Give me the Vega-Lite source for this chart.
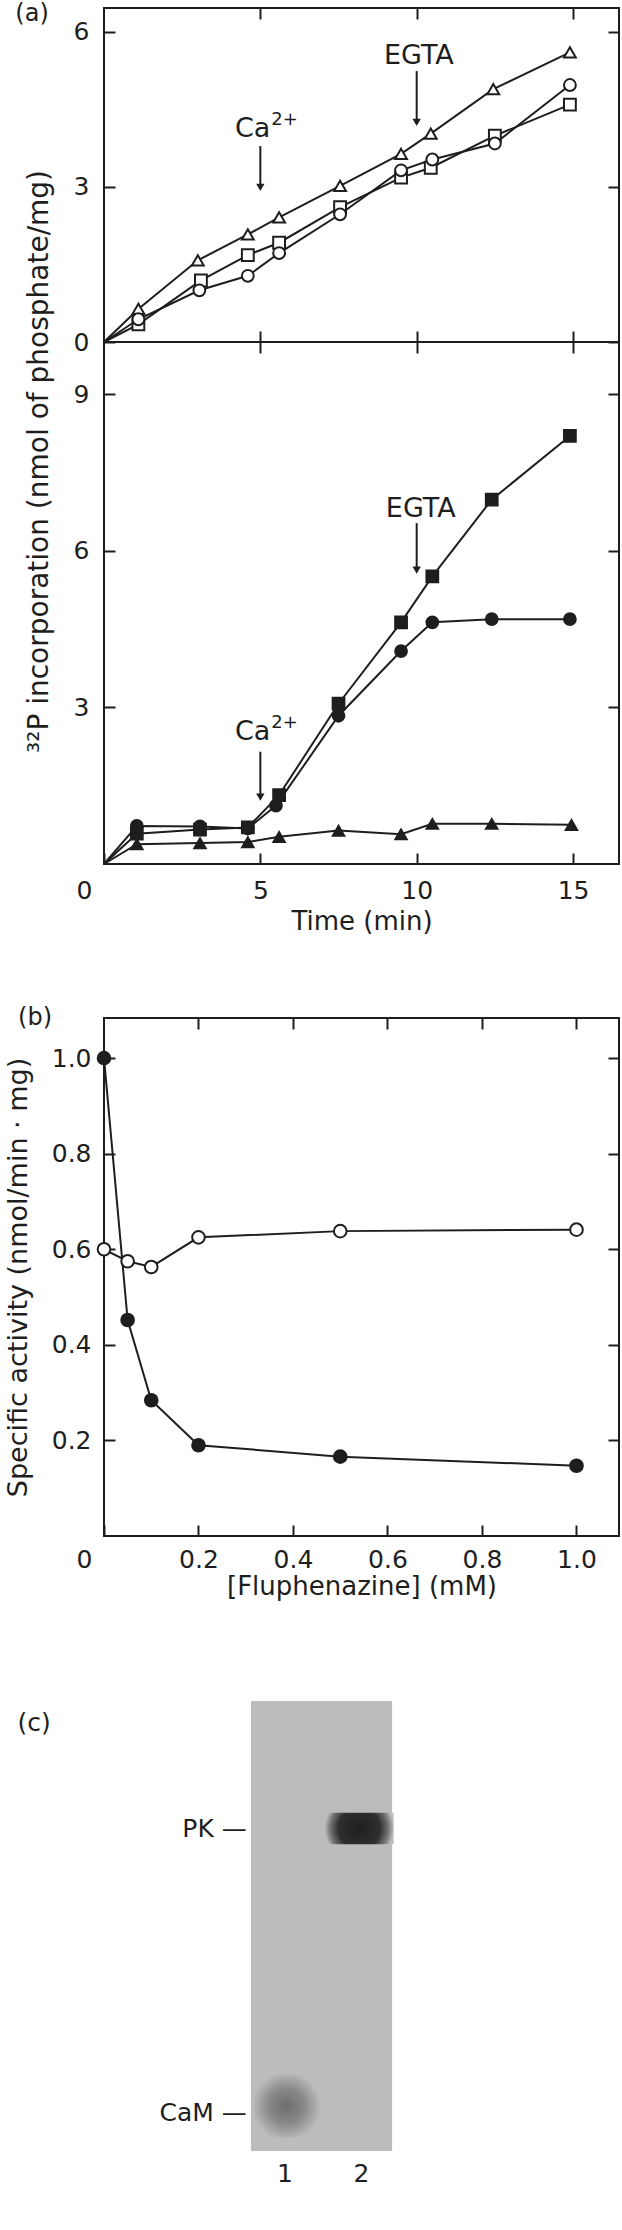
{
  "$schema": "https://vega.github.io/schema/vega-lite/v6.json",
  "padding": {"left": 2, "top": 1, "right": 2, "bottom": 2},
  "background": "white",
  "config": {
    "font": "DejaVu Sans",
    "view": {"stroke": "#1e1e1e", "strokeWidth": 2},
    "axis": {
      "domain": false, "grid": false, "tickSize": -11, "tickWidth": 2, "tickColor": "#1e1e1e",
      "labelFont": "DejaVu Sans", "labelFontSize": 25, "labelColor": "#1e1e1e", "labelFlush": false, "labelOverlap": false,
      "titleFont": "DejaVu Sans", "titleFontSize": 27, "titleFontWeight": "normal", "titleColor": "#1e1e1e"
    },
    "text": {"font": "DejaVu Sans", "color": "#1e1e1e"}
  },
  "datasets": {
    "a1": [
      {"s": "tri", "t": 0, "v": 0}, {"s": "tri", "t": 1.1, "v": 0.64}, {"s": "tri", "t": 3.0, "v": 1.58}, {"s": "tri", "t": 4.6, "v": 2.08}, {"s": "tri", "t": 5.6, "v": 2.41}, {"s": "tri", "t": 7.55, "v": 3.02}, {"s": "tri", "t": 9.5, "v": 3.64}, {"s": "tri", "t": 10.45, "v": 4.03}, {"s": "tri", "t": 12.45, "v": 4.89}, {"s": "tri", "t": 14.9, "v": 5.6},
      {"s": "sq", "t": 0, "v": 0}, {"s": "sq", "t": 1.1, "v": 0.34}, {"s": "sq", "t": 3.1, "v": 1.19}, {"s": "sq", "t": 4.6, "v": 1.68}, {"s": "sq", "t": 5.6, "v": 1.92}, {"s": "sq", "t": 7.55, "v": 2.61}, {"s": "sq", "t": 9.5, "v": 3.18}, {"s": "sq", "t": 10.45, "v": 3.37}, {"s": "sq", "t": 12.5, "v": 3.99}, {"s": "sq", "t": 14.9, "v": 4.59},
      {"s": "circ", "t": 0, "v": 0}, {"s": "circ", "t": 1.1, "v": 0.44}, {"s": "circ", "t": 3.05, "v": 1.0}, {"s": "circ", "t": 4.6, "v": 1.28}, {"s": "circ", "t": 5.6, "v": 1.72}, {"s": "circ", "t": 7.55, "v": 2.47}, {"s": "circ", "t": 9.5, "v": 3.32}, {"s": "circ", "t": 10.5, "v": 3.53}, {"s": "circ", "t": 12.5, "v": 3.84}, {"s": "circ", "t": 14.9, "v": 4.97}
    ],
    "a2": [
      {"s": "circ", "t": 0, "v": 0}, {"s": "circ", "t": 1.05, "v": 0.73}, {"s": "circ", "t": 3.07, "v": 0.72}, {"s": "circ", "t": 4.6, "v": 0.68}, {"s": "circ", "t": 5.5, "v": 1.12}, {"s": "circ", "t": 7.5, "v": 2.84}, {"s": "circ", "t": 9.5, "v": 4.08}, {"s": "circ", "t": 10.5, "v": 4.63}, {"s": "circ", "t": 12.4, "v": 4.69}, {"s": "circ", "t": 14.9, "v": 4.69},
      {"s": "sq", "t": 0, "v": 0}, {"s": "sq", "t": 1.05, "v": 0.58}, {"s": "sq", "t": 3.07, "v": 0.66}, {"s": "sq", "t": 4.6, "v": 0.7}, {"s": "sq", "t": 5.6, "v": 1.32}, {"s": "sq", "t": 7.5, "v": 3.07}, {"s": "sq", "t": 9.5, "v": 4.63}, {"s": "sq", "t": 10.5, "v": 5.51}, {"s": "sq", "t": 12.4, "v": 6.98}, {"s": "sq", "t": 14.9, "v": 8.2},
      {"s": "tri", "t": 0, "v": 0}, {"s": "tri", "t": 1.05, "v": 0.38}, {"s": "tri", "t": 3.07, "v": 0.4}, {"s": "tri", "t": 4.6, "v": 0.42}, {"s": "tri", "t": 5.6, "v": 0.52}, {"s": "tri", "t": 7.5, "v": 0.64}, {"s": "tri", "t": 9.5, "v": 0.57}, {"s": "tri", "t": 10.5, "v": 0.77}, {"s": "tri", "t": 12.4, "v": 0.77}, {"s": "tri", "t": 14.95, "v": 0.75}
    ],
    "a1ann": [{"label": "EGTA", "t": 10.07, "v": 5.53, "size": 27}, {"label": "(a)", "t": -2.3, "v": 6.34, "size": 24}],
    "a1ca": [{"label": "Ca", "sup": "2+", "t": 5.32, "v": 4.12}],
    "a1arr": [{"t": 5.0, "v": 3.79, "v2": 2.99}, {"t": 10.0, "v": 5.24, "v2": 4.25}],
    "a2ann": [{"label": "EGTA", "t": 10.13, "v": 6.8}],
    "a2ca": [{"label": "Ca", "sup": "2+", "t": 5.32, "v": 2.53}],
    "a2arr": [{"t": 5.0, "v": 2.15, "v2": 1.28}, {"t": 10.0, "v": 6.53, "v2": 5.63}],
    "b": [
      {"s": "open", "c": 0, "v": 0.6}, {"s": "open", "c": 0.05, "v": 0.575}, {"s": "open", "c": 0.1, "v": 0.563}, {"s": "open", "c": 0.2, "v": 0.625}, {"s": "open", "c": 0.5, "v": 0.638}, {"s": "open", "c": 1.0, "v": 0.641},
      {"s": "filled", "c": 0, "v": 1.0}, {"s": "filled", "c": 0.05, "v": 0.452}, {"s": "filled", "c": 0.1, "v": 0.284}, {"s": "filled", "c": 0.2, "v": 0.19}, {"s": "filled", "c": 0.5, "v": 0.166}, {"s": "filled", "c": 1.0, "v": 0.147}
    ],
    "bann": [{"label": "(b)", "c": -0.146, "v": 1.083}],
    "gel": [{"lane": 0.556, "lane2": 2.4, "m": 0, "m2": 1}],
    "pk": [{"lane": 1.52, "lane2": 2.42, "m": 0.248, "m2": 0.318}],
    "cam": [{"lane": 0.57, "lane2": 1.47, "m": 0.83, "m2": 0.97}],
    "gellabels": [{"label": "PK —", "lane": 0.5, "m": 0.284}, {"label": "CaM —", "lane": 0.5, "m": 0.916}],
    "lanes": [{"label": "1", "lane": 1, "m": 1.051}, {"label": "2", "lane": 2, "m": 1.051}, {"label": "(c)", "lane": -2.28, "m": 0.049}]
  },
  "bounds": "flush",
  "spacing": 0,
  "vconcat": [
    {
      "width": 515, "height": 334,
      "resolve": {"axis": {"x": "independent", "y": "independent"}},
      "layer": [
        {
          "data": {"name": "a1"},
          "mark": {"type": "line", "color": "#1e1e1e", "strokeWidth": 2},
          "encoding": {
            "x": {"field": "t", "type": "quantitative", "scale": {"domain": [0, 16.47], "nice": false, "zero": false}, "axis": {"orient": "bottom", "values": [5, 10, 15], "labels": false, "title": null}},
            "y": {"field": "v", "type": "quantitative", "scale": {"domain": [0, 6.46], "nice": false}, "axis": {"orient": "left", "values": [0, 3, 6], "title": null, "labelPadding": 26, "labelBaseline": "middle"}},
            "detail": {"field": "s"}
          }
        },
        {
          "data": {"name": "a1"},
          "transform": [{"filter": "datum.t > 0"}],
          "mark": {"type": "point", "filled": true, "fill": "white", "stroke": "#1e1e1e", "strokeWidth": 2, "size": 140, "opacity": 1},
          "encoding": {
            "x": {"field": "t", "type": "quantitative", "axis": {"orient": "top", "values": [5, 10, 15], "labels": false, "title": null}},
            "y": {"field": "v", "type": "quantitative", "axis": {"orient": "right", "values": [0, 3, 6], "labels": false, "title": null}},
            "shape": {"field": "s", "type": "nominal", "scale": {"domain": ["tri", "sq", "circ"], "range": ["triangle-up", "square", "circle"]}, "legend": null}
          }
        },
        {
          "data": {"name": "a1arr"},
          "mark": {"type": "rule", "color": "#1e1e1e", "strokeWidth": 2},
          "encoding": {
            "x": {"field": "t", "type": "quantitative", "axis": null},
            "y": {"field": "v", "type": "quantitative", "axis": null},
            "y2": {"field": "v2"}
          }
        },
        {
          "data": {"name": "a1arr"},
          "mark": {"type": "point", "shape": "triangle-down", "filled": true, "color": "#1e1e1e", "size": 70, "opacity": 1},
          "encoding": {
            "x": {"field": "t", "type": "quantitative", "axis": null},
            "y": {"field": "v2", "type": "quantitative", "axis": null}
          }
        },
        {
          "data": {"name": "a1ann"},
          "mark": {"type": "text", "align": "center", "baseline": "middle", "color": "#1e1e1e"},
          "encoding": {
            "x": {"field": "t", "type": "quantitative", "axis": null},
            "y": {"field": "v", "type": "quantitative", "axis": null},
            "text": {"field": "label"},
            "size": {"field": "size", "type": "quantitative", "scale": null}
          }
        },
        {
          "data": {"name": "a1ca"},
          "mark": {"type": "text", "fontSize": 27, "align": "right", "baseline": "middle", "color": "#1e1e1e"},
          "encoding": {
            "x": {"field": "t", "type": "quantitative", "axis": null},
            "y": {"field": "v", "type": "quantitative", "axis": null},
            "text": {"field": "label"}
          }
        },
        {
          "data": {"name": "a1ca"},
          "mark": {"type": "text", "fontSize": 18, "align": "left", "baseline": "middle", "dx": 1, "dy": -9, "color": "#1e1e1e"},
          "encoding": {
            "x": {"field": "t", "type": "quantitative", "axis": null},
            "y": {"field": "v", "type": "quantitative", "axis": null},
            "text": {"field": "sup"}
          }
        }
      ]
    },
    {
      "width": 515, "height": 522,
      "resolve": {"axis": {"x": "independent", "y": "independent"}},
      "layer": [
        {
          "data": {"name": "a2"},
          "mark": {"type": "line", "color": "#1e1e1e", "strokeWidth": 2},
          "encoding": {
            "x": {"field": "t", "type": "quantitative", "scale": {"domain": [0, 16.47], "nice": false, "zero": false},
              "axis": {"orient": "bottom", "values": [0, 5, 10, 15], "title": "Time (min)", "titleY": 57, "titleBaseline": "middle", "titleFontSize": 26,
                "labelPadding": 37, "labelBaseline": "middle",
                "labelOffset": {"condition": {"test": "datum.value === 0", "value": -20}, "value": 0}}},
            "y": {"field": "v", "type": "quantitative", "scale": {"domain": [0, 10], "nice": false},
              "axis": {"orient": "left", "values": [3, 6, 9], "labelPadding": 26, "labelBaseline": "middle",
                "title": "³²P incorporation (nmol of phosphate/mg)", "titleFontSize": 28, "titleX": -65, "titleY": 119, "titleBaseline": "middle", "titleAlign": "center", "titleAngle": 270}},
            "detail": {"field": "s"}
          }
        },
        {
          "data": {"name": "a2"},
          "transform": [{"filter": "datum.t > 0"}],
          "mark": {"type": "point", "filled": true, "fill": "#1e1e1e", "stroke": "#1e1e1e", "strokeWidth": 1.5, "size": 150, "opacity": 1},
          "encoding": {
            "x": {"field": "t", "type": "quantitative", "axis": {"orient": "top", "values": [5, 10, 15], "labels": false, "title": null}},
            "y": {"field": "v", "type": "quantitative", "axis": {"orient": "right", "values": [3, 6, 9], "labels": false, "title": null}},
            "shape": {"field": "s", "type": "nominal", "scale": {"domain": ["tri", "sq", "circ"], "range": ["triangle-up", "square", "circle"]}, "legend": null}
          }
        },
        {
          "data": {"name": "a2arr"},
          "mark": {"type": "rule", "color": "#1e1e1e", "strokeWidth": 2},
          "encoding": {
            "x": {"field": "t", "type": "quantitative", "axis": null},
            "y": {"field": "v", "type": "quantitative", "axis": null},
            "y2": {"field": "v2"}
          }
        },
        {
          "data": {"name": "a2arr"},
          "mark": {"type": "point", "shape": "triangle-down", "filled": true, "color": "#1e1e1e", "size": 70, "opacity": 1},
          "encoding": {
            "x": {"field": "t", "type": "quantitative", "axis": null},
            "y": {"field": "v2", "type": "quantitative", "axis": null}
          }
        },
        {
          "data": {"name": "a2ann"},
          "mark": {"type": "text", "fontSize": 27, "align": "center", "baseline": "middle", "color": "#1e1e1e"},
          "encoding": {
            "x": {"field": "t", "type": "quantitative", "axis": null},
            "y": {"field": "v", "type": "quantitative", "axis": null},
            "text": {"field": "label"}
          }
        },
        {
          "data": {"name": "a2ca"},
          "mark": {"type": "text", "fontSize": 27, "align": "right", "baseline": "middle", "color": "#1e1e1e"},
          "encoding": {
            "x": {"field": "t", "type": "quantitative", "axis": null},
            "y": {"field": "v", "type": "quantitative", "axis": null},
            "text": {"field": "label"}
          }
        },
        {
          "data": {"name": "a2ca"},
          "mark": {"type": "text", "fontSize": 18, "align": "left", "baseline": "middle", "dx": 1, "dy": -9, "color": "#1e1e1e"},
          "encoding": {
            "x": {"field": "t", "type": "quantitative", "axis": null},
            "y": {"field": "v", "type": "quantitative", "axis": null},
            "text": {"field": "sup"}
          }
        }
      ]
    },
    {
      "width": 515, "height": 154,
      "view": {"stroke": null},
      "data": {"values": [{"k": 0}]},
      "mark": {"type": "text", "text": ""},
      "encoding": {}
    },
    {
      "width": 515, "height": 518,
      "resolve": {"axis": {"x": "independent", "y": "independent"}},
      "layer": [
        {
          "data": {"name": "b"},
          "mark": {"type": "line", "color": "#1e1e1e", "strokeWidth": 2},
          "encoding": {
            "x": {"field": "c", "type": "quantitative", "scale": {"domain": [0, 1.09], "nice": false, "zero": false},
              "axis": {"orient": "bottom", "values": [0, 0.2, 0.4, 0.6, 0.8, 1.0], "title": "[Fluphenazine] (mM)", "titleY": 50, "titleBaseline": "middle", "titleFontSize": 26,
                "labelExpr": "datum.value === 0 ? '0' : format(datum.value, '.1f')",
                "labelPadding": 34, "labelBaseline": "middle",
                "labelOffset": {"condition": {"test": "datum.value === 0", "value": -20}, "value": 0}}},
            "y": {"field": "v", "type": "quantitative", "scale": {"domain": [0, 1.084], "nice": false},
              "axis": {"orient": "left", "values": [0.2, 0.4, 0.6, 0.8, 1.0], "format": ".1f", "labelPadding": 24, "labelBaseline": "middle",
                "title": "Specific activity (nmol/min · mg)", "titleX": -86, "titleBaseline": "middle", "titleAlign": "center", "titleAngle": 270}},
            "detail": {"field": "s"}
          }
        },
        {
          "data": {"name": "b"},
          "mark": {"type": "point", "shape": "circle", "filled": true, "stroke": "#1e1e1e", "strokeWidth": 2, "size": 160, "opacity": 1},
          "encoding": {
            "x": {"field": "c", "type": "quantitative", "axis": {"orient": "top", "values": [0.2, 0.4, 0.6, 0.8, 1.0], "labels": false, "title": null}},
            "y": {"field": "v", "type": "quantitative", "axis": {"orient": "right", "values": [0.2, 0.4, 0.6, 0.8, 1.0], "labels": false, "title": null}},
            "fill": {"field": "s", "type": "nominal", "scale": {"domain": ["open", "filled"], "range": ["white", "#1e1e1e"]}, "legend": null}
          }
        },
        {
          "data": {"name": "bann"},
          "mark": {"type": "text", "fontSize": 24, "align": "center", "baseline": "middle", "color": "#1e1e1e"},
          "encoding": {
            "x": {"field": "c", "type": "quantitative", "axis": null},
            "y": {"field": "v", "type": "quantitative", "axis": null},
            "text": {"field": "label"}
          }
        }
      ]
    },
    {
      "width": 515, "height": 625,
      "view": {"stroke": null},
      "layer": [
        {
          "data": {"name": "gel"},
          "mark": {"type": "rect", "fill": "#bcbcbc"},
          "encoding": {
            "x": {"field": "lane", "type": "quantitative", "scale": {"domain": [-1.366, 5.366], "nice": false, "zero": false}, "axis": null},
            "x2": {"field": "lane2"},
            "y": {"field": "m", "type": "quantitative", "scale": {"domain": [-0.3667, 1.022], "nice": false, "zero": false, "reverse": true}, "axis": null},
            "y2": {"field": "m2"}
          }
        },
        {
          "data": {"name": "pk"},
          "mark": {"type": "rect", "fill": {"gradient": "radial", "stops": [{"offset": 0, "color": "#1f1f1f"}, {"offset": 0.6, "color": "#2e2e2e"}, {"offset": 0.85, "color": "#777777"}, {"offset": 1, "color": "#bcbcbc"}]}},
          "encoding": {
            "x": {"field": "lane", "type": "quantitative", "axis": null},
            "x2": {"field": "lane2"},
            "y": {"field": "m", "type": "quantitative", "axis": null},
            "y2": {"field": "m2"}
          }
        },
        {
          "data": {"name": "cam"},
          "mark": {"type": "rect", "fill": {"gradient": "radial", "stops": [{"offset": 0, "color": "#6e6e6e"}, {"offset": 0.5, "color": "#888888"}, {"offset": 1, "color": "#bcbcbc"}]}},
          "encoding": {
            "x": {"field": "lane", "type": "quantitative", "axis": null},
            "x2": {"field": "lane2"},
            "y": {"field": "m", "type": "quantitative", "axis": null},
            "y2": {"field": "m2"}
          }
        },
        {
          "data": {"name": "gellabels"},
          "mark": {"type": "text", "fontSize": 25, "align": "right", "baseline": "middle", "color": "#1e1e1e"},
          "encoding": {
            "x": {"field": "lane", "type": "quantitative", "axis": null},
            "y": {"field": "m", "type": "quantitative", "axis": null},
            "text": {"field": "label"}
          }
        },
        {
          "data": {"name": "lanes"},
          "mark": {"type": "text", "fontSize": 25, "align": "center", "baseline": "middle", "color": "#1e1e1e"},
          "encoding": {
            "x": {"field": "lane", "type": "quantitative", "axis": null},
            "y": {"field": "m", "type": "quantitative", "axis": null},
            "text": {"field": "label"}
          }
        }
      ]
    }
  ]
}
